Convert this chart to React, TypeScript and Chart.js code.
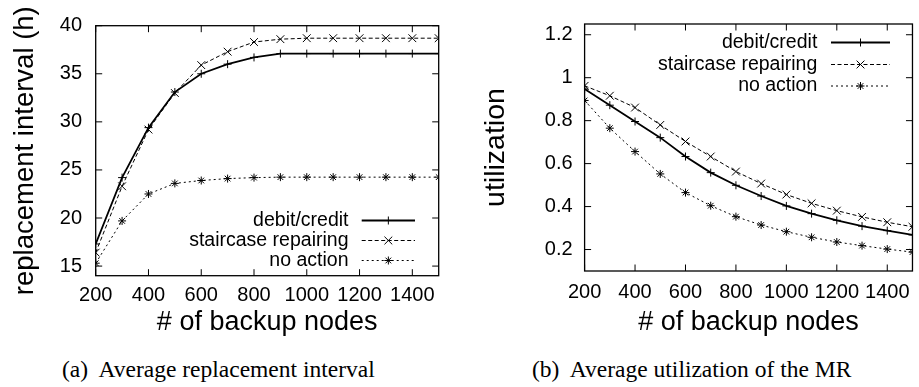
import React, { useEffect, useRef } from 'react';
import { Chart, registerables } from 'chart.js';

Chart.register(...registerables);

// ---------- data ----------
const NODES = [200, 300, 400, 500, 600, 700, 800, 900, 1000, 1100, 1200, 1300, 1400, 1500];
const X_TICKS = [200, 400, 600, 800, 1000, 1200, 1400];
const SERIES_NAMES = ['debit/credit', 'staircase repairing', 'no action'];

const INTERVAL_DEBIT = [17.3, 24.2, 29.4, 33.1, 35.0, 36.0, 36.7, 37.1, 37.1, 37.1, 37.1, 37.1, 37.1, 37.1];
const INTERVAL_STAIR = [16.4, 23.3, 29.2, 33.0, 35.9, 37.3, 38.3, 38.6, 38.7, 38.7, 38.7, 38.7, 38.7, 38.7];
const INTERVAL_NONE = [15.3, 19.7, 22.5, 23.6, 23.9, 24.1, 24.2, 24.25, 24.25, 24.25, 24.25, 24.25, 24.25, 24.25];
const INTERVAL_TICKS = [15, 20, 25, 30, 35, 40];

const UTIL_DEBIT = [0.947, 0.872, 0.796, 0.721, 0.633, 0.558, 0.499, 0.449, 0.403, 0.367, 0.336, 0.309, 0.288, 0.268];
const UTIL_STAIR = [0.962, 0.916, 0.861, 0.78, 0.703, 0.633, 0.563, 0.507, 0.456, 0.415, 0.381, 0.352, 0.327, 0.306];
const UTIL_NONE = [0.894, 0.765, 0.656, 0.552, 0.465, 0.404, 0.353, 0.314, 0.283, 0.257, 0.235, 0.218, 0.202, 0.188];
const UTIL_TICKS = [0.2, 0.4, 0.6, 0.8, 1, 1.2];

// ---------- styles ----------
const SANS = '"Liberation Sans", Arial, Helvetica, sans-serif';
const SERIF = '"Liberation Serif", "Times New Roman", Times, serif';
const STYLES = [
  { dash: [], width: 1.8, point: 'cross', radius: 4 },
  { dash: [4, 2.5], width: 1, point: 'crossRot', radius: 5.5 },
  { dash: [2, 3], width: 1, point: 'star', radius: 4 },
];

function drawMarker(ctx: CanvasRenderingContext2D, style: string, x: number, y: number, r: number) {
  ctx.beginPath();
  if (style === 'cross' || style === 'star') {
    ctx.moveTo(x - r, y); ctx.lineTo(x + r, y);
    ctx.moveTo(x, y - r); ctx.lineTo(x, y + r);
  }
  if (style === 'crossRot' || style === 'star') {
    const d = r * Math.SQRT1_2;
    ctx.moveTo(x - d, y - d); ctx.lineTo(x + d, y + d);
    ctx.moveTo(x - d, y + d); ctx.lineTo(x + d, y - d);
  }
  ctx.stroke();
}

const framePlugin = {
  id: 'gnuFrame',
  beforeDatasetsDraw(chart: any) {
    const { ctx, chartArea: a, scales } = chart;
    const L = 6.5;
    ctx.save();
    ctx.strokeStyle = '#000';
    ctx.lineWidth = 1;
    ctx.beginPath();
    for (const t of scales.x.ticks) {
      const px = scales.x.getPixelForValue(t.value);
      ctx.moveTo(px, a.bottom); ctx.lineTo(px, a.bottom - L);
      ctx.moveTo(px, a.top); ctx.lineTo(px, a.top + L);
    }
    for (const t of scales.y.ticks) {
      const py = scales.y.getPixelForValue(t.value);
      ctx.moveTo(a.left, py); ctx.lineTo(a.left + L, py);
      ctx.moveTo(a.right, py); ctx.lineTo(a.right - L, py);
    }
    ctx.stroke();
    ctx.lineWidth = 1.3;
    ctx.strokeRect(a.left, a.top, a.right - a.left, a.bottom - a.top);
    ctx.restore();
  },
};

const legendPlugin = {
  id: 'gnuLegend',
  afterDatasetsDraw(chart: any, _args: any, opts: any) {
    const { ctx } = chart;
    ctx.save();
    ctx.font = `${opts.size}px ${SANS}`;
    ctx.fillStyle = '#000';
    ctx.strokeStyle = '#000';
    ctx.textAlign = 'right';
    ctx.textBaseline = 'middle';
    chart.data.datasets.forEach((ds: any, i: number) => {
      const y = opts.rows[i];
      ctx.fillText(ds.label, opts.textRight, y);
      const st = STYLES[i];
      ctx.lineWidth = st.width;
      ctx.setLineDash(st.dash);
      ctx.beginPath();
      ctx.moveTo(opts.x0, y);
      ctx.lineTo(opts.x1, y);
      ctx.stroke();
      ctx.setLineDash([]);
      ctx.lineWidth = 1;
      drawMarker(ctx, st.point, (opts.x0 + opts.x1) / 2, y, st.radius);
    });
    ctx.restore();
  },
};

type PanelCfg = {
  series: number[][];
  yMin: number;
  yMax: number;
  yTicks: number[];
  yTitle: string;
  yTitleSize: number;
  yTitlePad: number;
  yWidth: number;
  yTickPad: number;
  xTickPad: number;
  xTitlePad: number;
  xHeight: number;
  padding: { left: number; right: number; top: number; bottom: number };
  legend: any;
  width: number;
  height: number;
};

function Panel({ cfg, left }: { cfg: PanelCfg; left: number }) {
  const ref = useRef<HTMLCanvasElement | null>(null);
  useEffect(() => {
    const canvas = ref.current!;
    const chart = new Chart(canvas, {
      type: 'line',
      data: {
        datasets: cfg.series.map((vals, i) => ({
          label: SERIES_NAMES[i],
          data: NODES.map((x, j) => ({ x, y: vals[j] })),
          borderColor: '#000',
          borderWidth: STYLES[i].width,
          borderDash: STYLES[i].dash,
          pointStyle: STYLES[i].point as any,
          pointRadius: STYLES[i].radius,
          pointBorderWidth: 1,
          pointBorderColor: '#000',
          pointBackgroundColor: 'rgba(0,0,0,0)',
          fill: false,
          tension: 0,
        })),
      },
      options: {
        responsive: false,
        animation: false,
        devicePixelRatio: 1,
        layout: { padding: cfg.padding },
        plugins: {
          legend: { display: false },
          tooltip: { enabled: false },
          gnuLegend: cfg.legend,
        } as any,
        scales: {
          x: {
            type: 'linear',
            min: 200,
            max: 1500,
            afterBuildTicks: (s: any) => { s.ticks = X_TICKS.map((v) => ({ value: v })); },
            afterFit: (s: any) => { s.height = cfg.xHeight; },
            grid: { display: false, drawTicks: false },
            border: { display: false },
            ticks: {
              color: '#000',
              font: { family: SANS, size: 20 },
              padding: cfg.xTickPad,
              maxRotation: 0,
              autoSkip: false,
              callback: (v: any) => String(v),
            },
            title: {
              display: true,
              text: '# of backup nodes',
              color: '#000',
              font: { family: SANS, size: 27 },
              padding: { top: 0, bottom: cfg.xTitlePad },
            },
          },
          y: {
            type: 'linear',
            min: cfg.yMin,
            max: cfg.yMax,
            afterBuildTicks: (s: any) => { s.ticks = cfg.yTicks.map((v) => ({ value: v })); },
            afterFit: (s: any) => { s.width = cfg.yWidth; },
            grid: { display: false, drawTicks: false },
            border: { display: false },
            ticks: {
              color: '#000',
              font: { family: SANS, size: 20 },
              padding: cfg.yTickPad,
              autoSkip: false,
              callback: (v: any) => String(v),
            },
            title: {
              display: true,
              text: cfg.yTitle,
              color: '#000',
              font: { family: SANS, size: cfg.yTitleSize },
              padding: { top: cfg.yTitlePad, bottom: 0 },
            },
          },
        },
      },
      plugins: [framePlugin, legendPlugin],
    });
    return () => chart.destroy();
  }, [cfg]);
  return (
    <canvas
      ref={ref}
      width={cfg.width}
      height={cfg.height}
      style={{ position: 'absolute', left, top: 0, width: cfg.width, height: cfg.height, display: 'block' }}
    />
  );
}

const CFG_A: PanelCfg = {
  series: [INTERVAL_DEBIT, INTERVAL_STAIR, INTERVAL_NONE],
  yMin: 14,
  yMax: 40,
  yTicks: INTERVAL_TICKS,
  yTitle: 'replacement interval (h)',
  yTitleSize: 27.5,
  yTitlePad: 9,
  yWidth: 95.7,
  yTickPad: 13.7,
  xTickPad: 8,
  xTitlePad: 6.5,
  xHeight: 345 - 275.7,
  padding: { left: 0, right: 21.3, top: 22, bottom: 0 },
  legend: { size: 19.5, textRight: 348.5, x0: 361.7, x1: 415, rows: [220.5, 240.5, 260.5] },
  width: 460,
  height: 345,
};

const CFG_B: PanelCfg = {
  series: [UTIL_DEBIT, UTIL_STAIR, UTIL_NONE],
  yMin: 0.1,
  yMax: 1.25,
  yTicks: UTIL_TICKS,
  yTitle: 'utilization',
  yTitleSize: 28.5,
  yTitlePad: 19.5,
  yWidth: 124.6,
  yTickPad: 12,
  xTickPad: 9,
  xTitlePad: 6.5,
  xHeight: 345 - 271,
  padding: { left: 0, right: 3.3, top: 24, bottom: 0 },
  legend: { size: 19.5, textRight: 357.3, x0: 371, x1: 430, rows: [42.5, 64.5, 86] },
  width: 459,
  height: 345,
};

export default function App() {
  const cap: React.CSSProperties = {
    position: 'absolute',
    top: 358,
    fontFamily: SERIF,
    fontSize: 23.5,
    lineHeight: 1,
    whiteSpace: 'pre',
    color: '#000',
  };
  return (
    <div style={{ position: 'fixed', left: 0, top: 0, width: 919, height: 387, background: '#fff', overflow: 'hidden' }}>
      <Panel cfg={CFG_A} left={0} />
      <Panel cfg={CFG_B} left={460} />
      <div style={{ ...cap, left: 62 }}>{'(a)  Average replacement interval'}</div>
      <div style={{ ...cap, left: 532 }}>{'(b)  Average utilization of the MR'}</div>
    </div>
  );
}
